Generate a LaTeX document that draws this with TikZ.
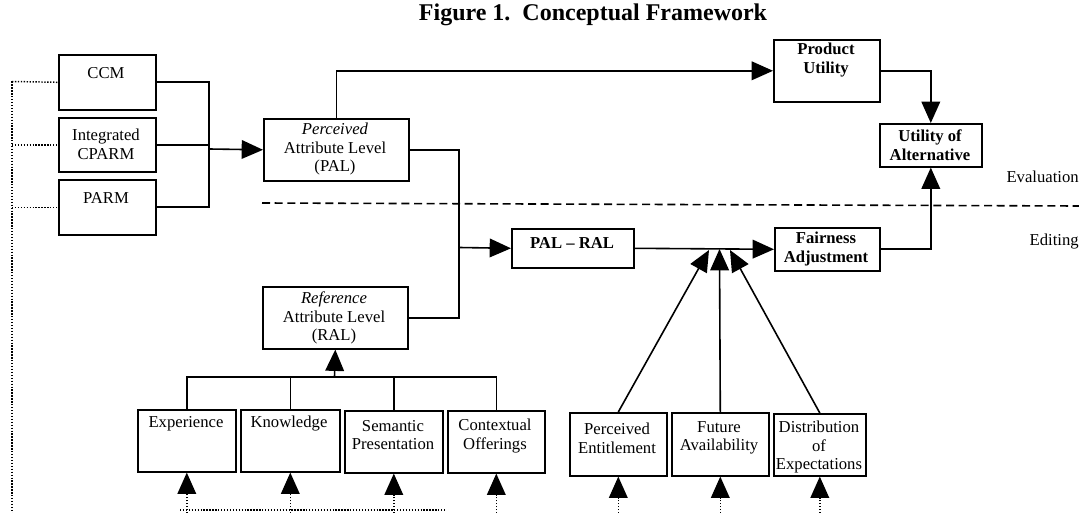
\documentclass[tikz,border=0pt]{standalone}
\usepackage{fontspec}
\setmainfont{Liberation Serif}
\usetikzlibrary{arrows.meta}
\tikzset{
  box/.style={draw, line width=1.2pt, inner sep=0pt, anchor=north west},
  txt/.style={align=center, inner sep=0pt, font=\fontsize{12.5pt}{14pt}\selectfont},
  btxt/.style={txt, font=\fontsize{12.5pt}{14pt}\selectfont\bfseries},
  conn/.style={line width=1.2pt},
  arr/.style={line width=1.2pt, -{Triangle[length=16pt,width=14pt]}},
  dots/.style={line width=1.1pt, dash pattern=on 1pt off 1.2pt},
  dotarr/.style={dots, -{Triangle[length=16pt,width=14pt]}},
  sep/.style={line width=1.2pt, dash pattern=on 6pt off 3.5pt}
}
\newcommand\mybox[5]{\node[box, minimum width={(#4)*0.75pt}, minimum height={(#5)*0.75pt}] (#1) at (#2,#3) {};}
\begin{document}
\begin{tikzpicture}[x=0.75pt,y=-0.75pt]
\useasboundingbox (0,0) rectangle (1079,513);
% title
\node[font=\fontsize{18pt}{20pt}\selectfont\bfseries, inner sep=0pt] (title) at (593,15) {Figure 1.\ \ Conceptual Framework};
% boxes
\mybox{ccm}{58}{54}{97}{55}
\mybox{cparm}{58}{117}{97}{54}
\mybox{parm}{58}{179}{97}{55}
\mybox{pal}{263}{118}{145}{62}
\mybox{ral}{262}{286}{145}{62}
\mybox{pu}{773}{39}{106}{62}
\mybox{uoa}{879}{123}{102}{43}
\mybox{fair}{774}{227}{105}{43}
\mybox{palral}{511}{228}{122}{39}
\mybox{exp}{137}{409}{98}{62}
\mybox{know}{240}{409}{99}{62}
\mybox{sem}{344}{410}{98}{62}
\mybox{ctx}{447}{410}{97}{62}
\mybox{pe}{569}{412}{97}{63}
\mybox{fa}{671}{412}{97}{63}
\mybox{de}{773}{413}{92}{62}
% texts
\node[txt] (tccm) at (106,73) {CCM};
\node[txt] (tcparm) at (106,144) {Integrated\\CPARM};
\node[txt] (tparm) at (106,198) {PARM};
\node[txt] (tpal) at (335,149) {\textit{Perceived}\\Attribute Level\\(PAL)};
\node[txt] (tral) at (334,318) {\textit{Reference}\\Attribute Level\\(RAL)};
\node[btxt] (tpu) at (826,60) {Product\\Utility};
\node[btxt] (tuoa) at (930,145) {Utility of\\Alternative};
\node[btxt] (tfair) at (826,249) {Fairness\\Adjustment};
\node[btxt] (tpalral) at (572,243) {PAL -- RAL};
\node[txt] (texp) at (186,424) {Experience};
\node[txt] (tknow) at (289,424) {Knowledge};
\node[txt] (tsem) at (393,435) {Semantic\\Presentation};
\node[txt] (tctx) at (495,436) {Contextual\\Offerings};
\node[txt] (tpe) at (617,438) {Perceived\\Entitlement};
\node[txt] (tfa) at (719,438) {Future\\Availability};
\node[txt] (tde) at (819,447) {Distribution\\of\\Expectations};
\node[txt, anchor=east] (teval) at (1079,177) {Evaluation};
\node[txt, anchor=east] (tedit) at (1079,242) {Editing};
% separator
\coordinate (d1) at (262,203);
\coordinate (d2) at (1079,206);
\draw[sep] (d1) -- (d2);
% left group to PAL
\coordinate (j1) at (209,149);
\draw[conn] (ccm.east) -| (j1) |- (parm.east);
\draw[conn] (cparm.east) -- (cparm.east -| j1);
\draw[arr] (j1) -- (pal.west);
% PAL to product utility
\draw[arr] (pal.north) |- (pu.west);
\draw[arr] (pu.east) -| (uoa.north);
\draw[arr] (fair.east) -| (uoa.south);
% PAL, RAL to PAL-RAL
\coordinate (j2) at (459,247.5);
\draw[conn] (pal.east) -| (j2);
\draw[conn] (ral.east) -| (j2);
\draw[arr] (j2) -- (palral.west);
\draw[arr] (palral.east) -- (fair.west);
% convergence
\coordinate (c1) at (709,250);
\coordinate (c2) at (719.5,249);
\coordinate (c3) at (730,250);
\draw[arr] (pe.north) -- (c1);
\draw[arr] (fa.north) -- (c2);
\draw[arr] (de.north) -- (c3);
% tree to RAL
\coordinate (bar) at (334.5,377);
\draw[conn] (exp.north) |- (bar) -| (ctx.north);
\draw[conn] (know.north) -- (know.north |- bar);
\draw[conn] (sem.north) -- (sem.north |- bar);
\draw[arr] (bar) -- (ral.south);
% left dotted
\coordinate (l0) at (12,81.5);
\coordinate (l1) at (12,513);
\draw[dots] (l0) -- (l1);
\draw[dots] (l0) -- (ccm.west);
\draw[dots] (l0 |- cparm.west) -- (cparm.west);
\draw[dots] (l0 |- parm.west) -- (parm.west);
% bottom dotted arrows
\foreach \n in {exp,know,sem,ctx,pe,fa,de}{
  \coordinate (b\n) at (\n.south |- l1);
  \draw[dotarr] (b\n) -- (\n.south);
}
\coordinate (h1) at (180,510);
\coordinate (h2) at (445,510);
\draw[dots] (h1) -- (h2);
\end{tikzpicture}
\end{document}
